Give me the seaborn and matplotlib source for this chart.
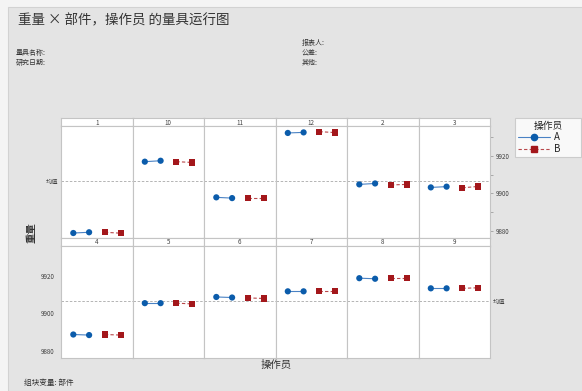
import numpy as np
import pandas as pd
import matplotlib
matplotlib.use('Agg')
import matplotlib.pyplot as plt
import seaborn as sns
from matplotlib.lines import Line2D
from matplotlib.patches import Rectangle
from matplotlib.ticker import MultipleLocator

sns.set_theme(style='white')
plt.rcParams['font.family'] = ['Noto Sans CJK SC', 'DejaVu Sans']
plt.rcParams['axes.unicode_minus'] = False

# data (two trials per operator, per part)
parts = ['1', '10', '11', '12', '2', '3', '4', '5', '6', '7', '8', '9']
a_trial1 = [9878.9, 9916.9, 9897.9, 9932.2, 9904.8, 9903.2, 9888.6, 9905.3, 9908.6, 9911.6, 9918.6, 9913.2]
a_trial2 = [9879.3, 9917.4, 9897.5, 9932.5, 9905.3, 9903.6, 9888.3, 9905.3, 9908.3, 9911.6, 9918.3, 9913.2]
b_trial1 = [9879.3, 9916.9, 9897.5, 9932.9, 9904.5, 9903.0, 9888.6, 9905.3, 9908.1, 9911.6, 9918.6, 9913.2]
b_trial2 = [9878.8, 9916.5, 9897.5, 9932.4, 9904.8, 9903.7, 9888.3, 9904.9, 9907.8, 9911.6, 9918.6, 9913.5]
operators = ['A', 'B']
y_ticks = [9880, 9900, 9920]

rows = []
for i, p in enumerate(parts):
    rows.append((p, 'A', 1, a_trial1[i]))
    rows.append((p, 'A', 2, a_trial2[i]))
    rows.append((p, 'B', 3, b_trial1[i]))
    rows.append((p, 'B', 4, b_trial2[i]))
df = pd.DataFrame(rows, columns=['part', 'operator', 'pos', 'weight'])
grand_mean = df['weight'].mean()

W, H = 582, 391
fig = plt.figure(figsize=(W / 100, H / 100), dpi=100)
fig.patch.set_facecolor('#F4F4F4')
fig.add_artist(Rectangle((8 / W, 0), 1, 1 - 7 / H, transform=fig.transFigure,
                         facecolor='#E4E4E4', edgecolor='#D2D2D2', lw=0.8, zorder=-5))

mark_pal = {'A': '#0B5CAB', 'B': '#A3171B'}
line_pal = {'A': '#4A82C4', 'B': '#B8484B'}
grid_col = '#C4C4C4'
txt_col = '#404040'

# layout in pixels
left0, col_w = 61, 71.5
strip_h = 8.2
row_tops = [118, 237.7]
panel_h = 111.7
ylim = (9876.3, 9935.8)

for i, p in enumerate(parts):
    r, c = divmod(i, 6)
    x0 = left0 + c * col_w
    s_top = row_tops[r]
    p_top = s_top + strip_h
    # strip
    axs = fig.add_axes([x0 / W, 1 - p_top / H, col_w / W, strip_h / H])
    axs.set_facecolor('white')
    axs.set_xticks([])
    axs.set_yticks([])
    for sp in axs.spines.values():
        sp.set_color(grid_col)
        sp.set_linewidth(0.8)
    axs.text(0.5, 0.45, p, ha='center', va='center', fontsize=4.5, color=txt_col,
             transform=axs.transAxes)
    # panel
    ax = fig.add_axes([x0 / W, 1 - (p_top + panel_h) / H, col_w / W, panel_h / H])
    ax.set_facecolor('white')
    sub = df[df['part'] == p]
    sns.lineplot(data=sub, x='pos', y='weight', hue='operator', style='operator',
                 palette=line_pal, dashes={'A': '', 'B': (3, 2)}, linewidth=0.8,
                 errorbar=None, legend=False, ax=ax)
    sns.scatterplot(data=sub, x='pos', y='weight', hue='operator', style='operator',
                    markers={'A': 'o', 'B': 's'}, palette=mark_pal, s=20, linewidth=0,
                    legend=False, ax=ax, zorder=3)
    ax.axhline(grand_mean, color='#A8A8A8', lw=0.6, ls=(0, (3, 2)), zorder=1)
    ax.set_xlim(0.22, 4.75)
    ax.set_ylim(*ylim)
    ax.set_xlabel('')
    ax.set_ylabel('')
    ax.set_xticks([])
    for sp in ax.spines.values():
        sp.set_color(grid_col)
        sp.set_linewidth(0.8)
    ax.tick_params(axis='y', which='both', length=2.5, width=0.5, color='#909090',
                   labelsize=4.5, labelcolor=txt_col, pad=2)
    if c == 0 and r == 0:
        ax.set_yticks([grand_mean])
        ax.set_yticklabels(['均值'])
        ax.tick_params(axis='y', length=0)
    elif c == 0 and r == 1:
        ax.set_yticks(y_ticks)
        ax.yaxis.set_minor_locator(MultipleLocator(10))
    elif c == 5 and r == 0:
        ax.yaxis.tick_right()
        ax.set_yticks(y_ticks)
        ax.yaxis.set_minor_locator(MultipleLocator(10))
    elif c == 5 and r == 1:
        ax.yaxis.tick_right()
        ax.set_yticks([grand_mean])
        ax.set_yticklabels(['均值'])
        ax.tick_params(axis='y', length=0)
    else:
        ax.set_yticks([])

# texts
fig.text(18 / W, 1 - 20 / H, '重量 × 部件，操作员 的量具运行图', fontsize=9.7,
         color='#333333', va='center', ha='left')
fig.text(16 / W, 1 - 53 / H, '量具名称:', fontsize=5, color='#333333', va='center')
fig.text(16 / W, 1 - 63 / H, '研究日期:', fontsize=5, color='#333333', va='center')
fig.text(302 / W, 1 - 43 / H, '报表人:', fontsize=5, color='#333333', va='center')
fig.text(302 / W, 1 - 53 / H, '公差:', fontsize=5, color='#333333', va='center')
fig.text(302 / W, 1 - 63 / H, '其他:', fontsize=5, color='#333333', va='center')
fig.text(32 / W, 1 - 233 / H, '重量', fontsize=7.5, color='#333333', rotation=90,
         va='center', ha='center', fontweight='bold')
fig.text(276 / W, 1 - 365 / H, '操作员', fontsize=7.5, color='#333333',
         va='center', ha='center')
fig.text(24 / W, 1 - 383 / H, '组块变量: 部件', fontsize=5.5, color='#333333', va='center')

# legend
handles = [Line2D([0], [0], color=line_pal['A'], lw=0.8, marker='o', markersize=4.5,
                  markerfacecolor=mark_pal['A'], markeredgecolor=mark_pal['A']),
           Line2D([0], [0], color=line_pal['B'], lw=0.8, ls=(0, (3, 2)), marker='s',
                  markersize=4.5, markerfacecolor=mark_pal['B'], markeredgecolor=mark_pal['B'])]
leg = fig.legend(handles, operators, title='操作员', loc='upper left',
                 bbox_to_anchor=(515 / W, 1 - 118 / H, 66 / W, 0.001), mode='expand',
                 fontsize=7, title_fontsize=7,
                 frameon=True, fancybox=False, handlelength=3.2, borderpad=0.35,
                 labelspacing=0.15, handletextpad=0.5, borderaxespad=0)
leg.get_frame().set_edgecolor(grid_col)
leg.get_frame().set_linewidth(0.8)
leg.get_frame().set_facecolor('white')

fig.savefig('out.png', dpi=100)
